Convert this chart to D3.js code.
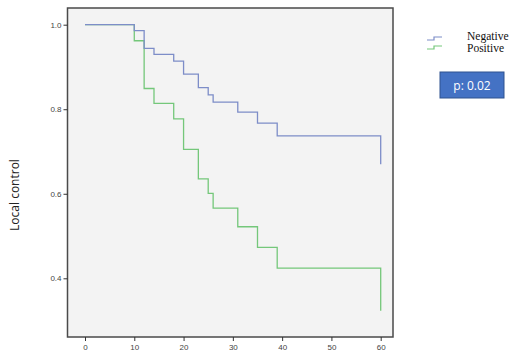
<!DOCTYPE html>
<html><head><meta charset="utf-8">
<script src="https://cdn.jsdelivr.net/npm/d3@7"></script>
<style>body{margin:0;background:#fff}svg{display:block}</style>
</head><body>
<svg id="c" width="522" height="360"></svg>
<script>
const xTicks = [0,10,20,30,40,50,60];
const yTicks = [0.4,0.6,0.8,1.0];
const negTimes = [0,10,12,14,18,20,23,25,26,31,35,39,60];
const negSurv  = [1.0,0.986,0.944,0.930,0.914,0.883,0.851,0.834,0.817,0.793,0.767,0.737,0.670];
const posTimes = [0,10,12,14,18,20,23,25,26,31,35,39,60];
const posSurv  = [1.0,0.962,0.849,0.814,0.777,0.705,0.635,0.601,0.566,0.522,0.473,0.424,0.323];
const groups = ["Negative","Positive"];
const colors = ["#7d8dc8","#74c77a"];

const svg = d3.select("#c");
const L=67.5, R=393, T=8, B=337;
const x = d3.scaleLinear().domain([0,60]).range([85,380.7]);
const y = d3.scaleLinear().domain([0.4,1.0]).range([278.3,24.7]);

svg.append("rect").attr("x",L).attr("y",T).attr("width",R-L).attr("height",B-T)
  .attr("fill","#f3f3f3").attr("stroke","#4a4a4a").attr("stroke-width",1.5);

const yAxis = svg.append("g").attr("transform",`translate(${L},0)`)
  .call(d3.axisLeft(y).tickValues(yTicks).tickFormat(d3.format(".1f")).tickSize(4).tickPadding(2));
const xAxis = svg.append("g").attr("transform",`translate(0,${B})`)
  .call(d3.axisBottom(x).tickValues(xTicks).tickSize(4).tickPadding(3));
[yAxis,xAxis].forEach(a=>{
  a.select(".domain").remove();
  a.selectAll("line").attr("stroke","#333");
  a.selectAll("text").attr("fill","#444").style("font-family","Liberation Sans, Arial, sans-serif").style("font-size","8px");
});

function stepPath(t,s){
  const p=[];
  for(let i=0;i<t.length;i++){
    if(i>0) p.push([t[i],s[i-1]]);
    p.push([t[i],s[i]]);
  }
  return d3.line().x(d=>x(d[0])).y(d=>y(d[1]))(p);
}
[[posTimes,posSurv,colors[1]],[negTimes,negSurv,colors[0]]].forEach(([t,s,c])=>{
  svg.append("path").attr("d",stepPath(t,s)).attr("fill","none").attr("stroke",c).attr("stroke-width",1.3);
});

svg.append("text").attr("transform","translate(19,195) rotate(-90)").attr("text-anchor","middle")
  .style("font-family","Open Sans, Liberation Sans, sans-serif").style("font-size","12px").attr("fill","#222").text("Local control");

// legend
const lg = svg.append("g");
groups.forEach((g,i)=>{
  const yy = 37 + i*9;
  lg.append("path").attr("d",`M427,${yy+3}H434V${yy}H442`).attr("fill","none").attr("stroke",colors[i]).attr("stroke-width",1.2);
  lg.append("text").attr("x",467).attr("y",40+i*12).style("font-family","Liberation Serif, Times New Roman, serif")
    .style("font-size","11.5px").attr("fill","#111").text(g);
});

svg.append("rect").attr("x",440).attr("y",72).attr("width",64).attr("height",26)
  .attr("fill","#4472c4").attr("stroke","#2f528f").attr("stroke-width",1);
svg.append("text").attr("x",472).attr("y",89.5).attr("text-anchor","middle").attr("fill","#fff")
  .style("font-family","Open Sans, Liberation Sans, sans-serif").style("font-size","12px").text("p: 0.02");
</script>
</body></html>
